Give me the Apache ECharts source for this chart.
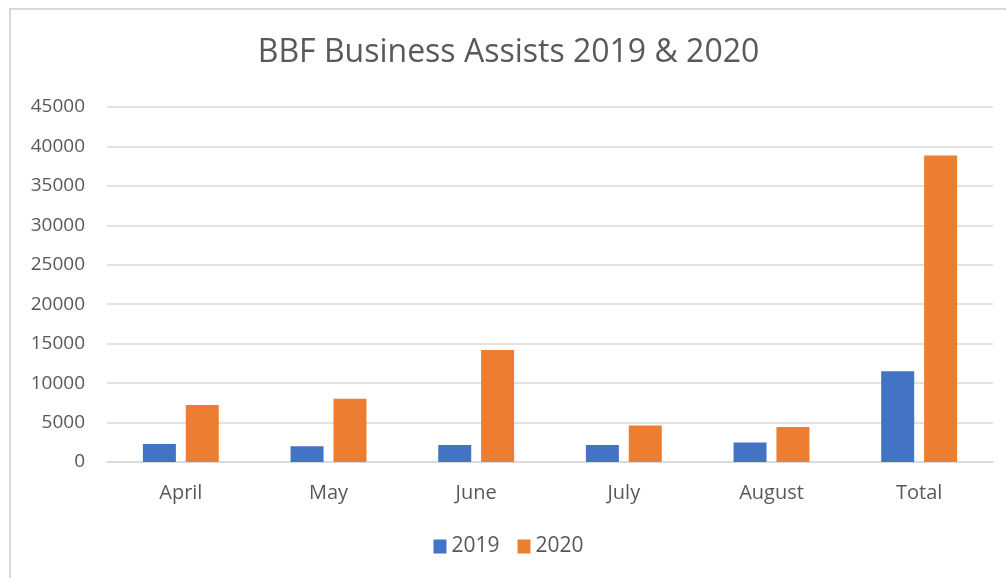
<!DOCTYPE html>
<html>
<head>
<meta charset="utf-8">
<script src="https://cdn.jsdelivr.net/npm/echarts@6/dist/echarts.min.js"></script>
<style>
  html, body { margin: 0; padding: 0; background: #fff; overflow: hidden; }
  #chart {
    position: absolute;
    left: 9px; top: 8px;
    width: 997px; height: 570px;
    border-left: 2px solid #d9d9d9;
    border-top: 2px solid #d9d9d9;
    box-sizing: border-box;
  }
</style>
</head>
<body>
<div id="chart"></div>
<script>
const categories = ['April', 'May', 'June', 'July', 'August', 'Total']
const assists2019 = [2290, 2000, 2170, 2170, 2460, 11490]
const assists2020 = [7210, 8010, 14210, 4620, 4450, 38840]
const yTicks = { min: 0, max: 45000, interval: 5000 }

const textColor = '#595959'
const gridColor = '#d9d9d9'

const chart = echarts.init(document.getElementById('chart'))
chart.setOption({
  backgroundColor: '#fff',
  animation: false,
  title: {
    text: 'BBF Business Assists 2019 & 2020',
    left: 'center',
    top: 22,
    textStyle: { color: textColor, fontSize: 32, fontWeight: 'normal', fontFamily: 'Open Sans, sans-serif' }
  },
  legend: {
    bottom: 16,
    left: 'center',
    itemWidth: 13,
    itemHeight: 14,
    itemGap: 18,
    icon: 'rect',
    textStyle: { color: textColor, fontSize: 21, fontFamily: 'Open Sans, sans-serif' },
    data: ['2019', '2020']
  },
  grid: { left: 96, right: 13, top: 97, bottom: 116 },
  xAxis: {
    type: 'category',
    data: categories,
    axisTick: { show: false },
    axisLine: { lineStyle: { color: gridColor, width: 1.5 } },
    axisLabel: { color: textColor, fontSize: 20, margin: 21, fontFamily: 'Open Sans, sans-serif' }
  },
  yAxis: {
    type: 'value',
    min: yTicks.min,
    max: yTicks.max,
    interval: yTicks.interval,
    axisLine: { show: false },
    axisTick: { show: false },
    axisLabel: { color: textColor, fontSize: 19, margin: 22, fontFamily: 'Open Sans, sans-serif', formatter: v => String(v) },
    splitLine: { lineStyle: { color: gridColor, width: 1.5 } }
  },
  series: [
    {
      name: '2019',
      type: 'bar',
      data: assists2019,
      barWidth: 33,
      barGap: '30%',
      itemStyle: { color: '#4472c4' }
    },
    {
      name: '2020',
      type: 'bar',
      data: assists2020,
      barWidth: 33,
      itemStyle: { color: '#ed7d31' }
    }
  ]
})
</script>
</body>
</html>
